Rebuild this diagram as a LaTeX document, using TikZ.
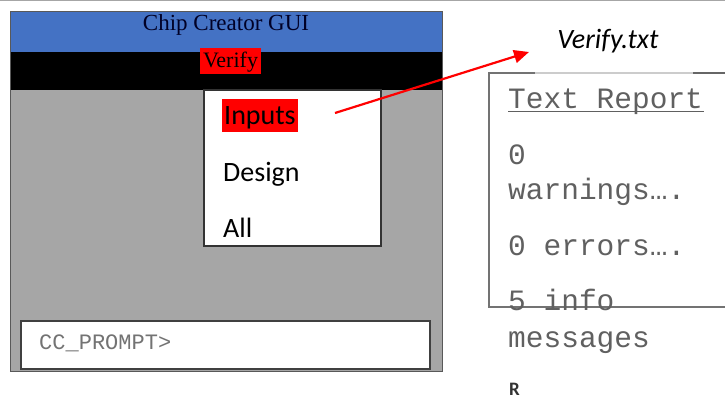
\documentclass[tikz,border=0pt]{standalone}
\usepackage{fontspec}
\setmainfont{Liberation Serif}
\newfontfamily\calfont{Carlito}
\newfontfamily\courfont{Liberation Mono}
\usetikzlibrary{arrows.meta}
\definecolor{guiblue}{HTML}{4472C4}
\definecolor{guigray}{HTML}{A6A6A6}
\definecolor{monogray}{HTML}{606060}
\definecolor{arrowred}{HTML}{FF0000}
\tikzset{
  serif/.style={inner sep=0pt, font=\fontsize{23}{26}\selectfont},
  menuitem/.style={inner sep=0pt, anchor=base west, font=\calfont\fontsize{28}{32}\selectfont},
  reportline/.style={inner sep=0pt, anchor=base west, text=monogray, font=\courfont\fontsize{29.5}{32}\selectfont},
}
\begin{document}
\begin{tikzpicture}[x=1pt,y=-1pt]
\useasboundingbox (0,0) rectangle (725,398);
\fill[white] (0,0) rectangle (725,398);
% top rule
\draw[line width=1.5pt, draw=black!35] (0,0.75) -- (725,0.75);
% window
\fill[guigray] (10,12) rectangle (442,371);
\fill[guiblue] (10,12) rectangle (442,52);
\fill[black] (10,52) rectangle (442,90);
\draw[line width=1pt, draw=black!65] (10,12) rectangle (442,371);
% title
\node[serif, anchor=base, text=black!85!blue] (title) at (226,31) {Chip Creator GUI};
% verify menu
\fill[arrowred] (200,48) rectangle (261,74);
\node[serif, anchor=base, font=\fontsize{22}{26}\selectfont] (verify) at (230.5,68) {Verify};
% dropdown
\draw[fill=white, line width=1.2pt, draw=black!80] (204,90) rectangle (381,246);
\fill[arrowred] (222,99) rectangle (298,132);
\node[menuitem] (inputs) at (224,125) {Inputs};
\node[menuitem] (design) at (223,182) {Design};
\node[menuitem] (all) at (223,237) {All};
% prompt box
\draw[fill=white, line width=2pt, draw=black!75] (21,321) rectangle (430,369);
\node[inner sep=0pt, anchor=base west, text=black!55, font=\courfont\fontsize{22}{24}\selectfont] (prompt) at (39,349) {CC\_PROMPT>};
% report box
\coordinate (rtl) at (489,73);
\coordinate (rbl) at (489,307);
\draw[line width=2pt, draw=black!55] (725,307) -- (rbl) -- (rtl) -- (535,73);
\draw[line width=2pt, draw=black!20] (535,73) -- (693,73);
\draw[line width=2pt, draw=black!60] (693,73) -- (725,73);
\node[inner sep=0pt, anchor=base, font=\calfont\itshape\fontsize{28}{32}\selectfont] (vtxt) at (608,49) {Verify.txt};
\node[reportline] (trep) at (508,109) {Text Report};
\draw[line width=1.2pt, draw=monogray] (508,111.5) -- (704,111.5);
\node[reportline] (l1) at (508,165) {0};
\node[reportline] (l2) at (508,200) {warnings….};
\node[reportline] (l3) at (508,255) {0 errors….};
\node[reportline] (l4) at (508,310) {5 info};
\node[reportline] (l5) at (508,347) {messages};
\node[inner sep=0pt, anchor=base west, text=black!80, font=\calfont\bfseries\fontsize{19}{22}\selectfont] (lr) at (509,395.5) {R};
% arrow
\coordinate (astart) at (335,113);
\coordinate (aend) at (529,52);
\draw[draw=arrowred, fill=arrowred, line width=2.2pt, -{Triangle[length=15pt,width=13pt]}] (astart) -- (aend);
\end{tikzpicture}
\end{document}
